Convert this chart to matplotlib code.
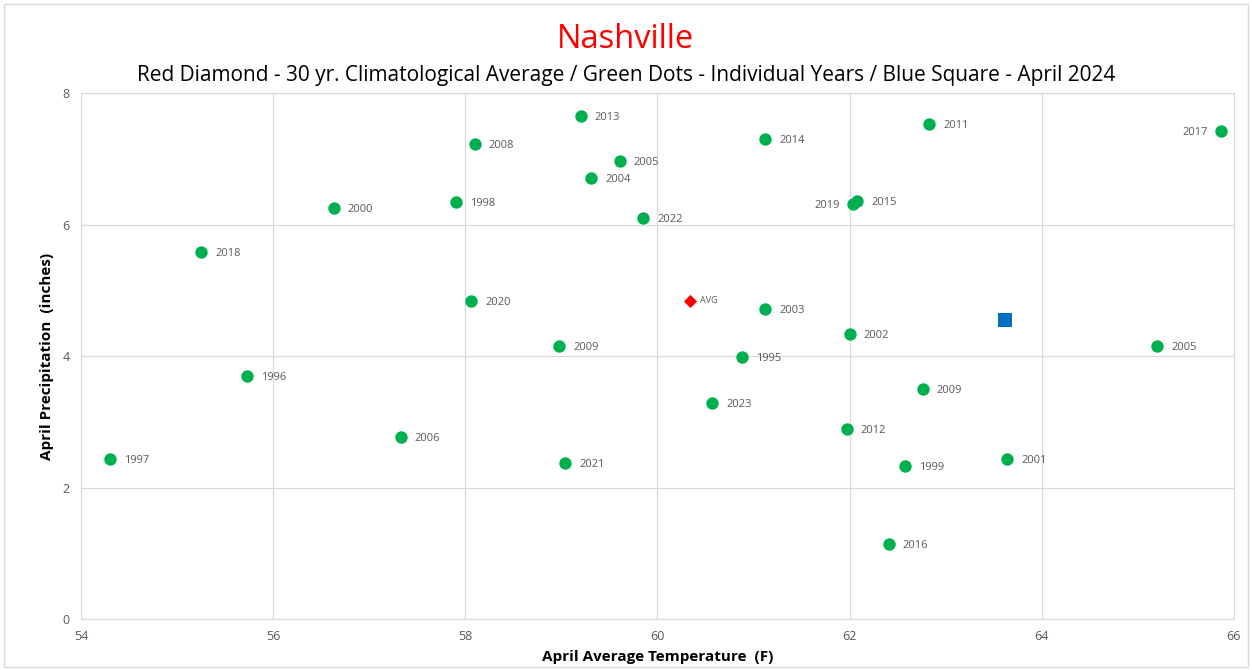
import matplotlib.pyplot as plt
from matplotlib.patches import Rectangle

# individual years (April avg temp F, April precip inches)
years = ["1997", "2018", "1996", "2000", "2006", "1998", "2008", "2020", "2009", "2021",
         "2013", "2004", "2005", "2022", "2023", "1995", "2003", "2014", "2012", "2002",
         "2019", "2015", "2016", "1999", "2009", "2011", "2001", "2005", "2017"]
temps = [54.30, 55.25, 55.73, 56.63, 57.33, 57.90, 58.10, 58.06, 58.98, 59.04,
         59.20, 59.31, 59.61, 59.85, 60.57, 60.88, 61.12, 61.12, 61.97, 62.00,
         62.04, 62.08, 62.41, 62.58, 62.76, 62.83, 63.64, 65.20, 65.87]
precip = [2.43, 5.58, 3.70, 6.25, 2.77, 6.34, 7.22, 4.84, 4.15, 2.37,
          7.65, 6.71, 6.97, 6.10, 3.29, 3.98, 4.71, 7.30, 2.89, 4.33,
          6.31, 6.36, 1.14, 2.33, 3.50, 7.53, 2.43, 4.15, 7.42]
left_labels = ["2019", "2017"]

avg_temp, avg_precip = 60.34, 4.84
cur_temp, cur_precip = 63.62, 4.55

plt.rcParams['font.family'] = ['Open Sans', 'DejaVu Sans']

fig = plt.figure(figsize=(12.52, 6.7), dpi=100)
ax = fig.add_axes([0.0647, 0.0761, 0.9209, 0.7851])

grid_c = "#d9d9d9"
txt_c = "#595959"

ax.scatter(temps, precip, s=80, color="#00b050", zorder=3, linewidths=0)
ax.scatter([avg_temp], [avg_precip], s=45, marker="D", color="#ff0000", zorder=3, linewidths=0)
ax.scatter([cur_temp], [cur_precip], s=90, marker="s", color="#0070c0", zorder=3, linewidths=0)

for yr, t, p in zip(years, temps, precip):
    if yr in left_labels:
        ax.annotate(yr, (t, p), xytext=(-10, -1), textcoords="offset points",
                    ha="right", va="center", fontsize=8, color=txt_c)
    else:
        ax.annotate(yr, (t, p), xytext=(10, -1), textcoords="offset points",
                    ha="left", va="center", fontsize=8, color=txt_c)
ax.annotate("AVG", (avg_temp, avg_precip), xytext=(7, 0), textcoords="offset points",
            ha="left", va="center", fontsize=6.5, color=txt_c)

ax.set_xlim(54, 66)
ax.set_ylim(0, 8)
ax.set_xticks(range(54, 67, 2))
ax.set_yticks(range(0, 9, 2))
ax.grid(True, color=grid_c, linewidth=0.9)
ax.set_axisbelow(True)
for s in ax.spines.values():
    s.set_color(grid_c)
ax.tick_params(length=0, labelsize=9, colors=txt_c, pad=8)

ax.set_xlabel("April Average Temperature  (F)", fontsize=11, fontweight="bold", labelpad=5)
ax.set_ylabel("April Precipitation  (inches)", fontsize=11, fontweight="bold", labelpad=6)

fig.text(0.5, 0.941, "Nashville", ha="center", va="center", fontsize=23.5, color="#ff0000")
fig.text(0.5, 0.888, "Red Diamond - 30 yr. Climatological Average / Green Dots - Individual Years / Blue Square - April 2024",
         ha="center", va="center", fontsize=15, color="black")

fig.patches.append(Rectangle((0.003, 0.004), 0.994, 0.99, transform=fig.transFigure,
                             fill=False, edgecolor=grid_c, linewidth=1))

fig.savefig("out.png", dpi=100)
